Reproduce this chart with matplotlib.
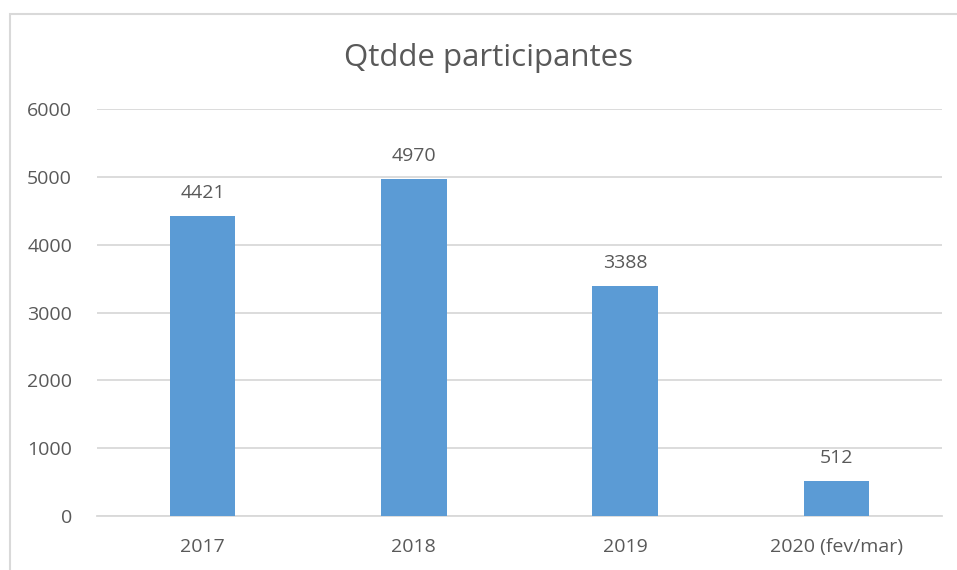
import matplotlib.pyplot as plt
from matplotlib.patches import Rectangle

categories = ["2017", "2018", "2019", "2020 (fev/mar)"]
values = [4421, 4970, 3388, 512]
yticks = [0, 1000, 2000, 3000, 4000, 5000, 6000]
title = "Qtdde participantes"

plt.rcParams['font.family'] = ['Open Sans', 'DejaVu Sans']
text_color = '#595959'
grid_color = '#d9d9d9'
bar_color = '#5b9bd5'

fig = plt.figure(figsize=(9.57, 5.70), dpi=100)
fig.patches.append(Rectangle((10/957, -0.1), 1.2, 1 - 14/570 + 0.1, transform=fig.transFigure,
                             fill=False, edgecolor='#d9d9d9', linewidth=1.5))
ax = fig.add_axes([97/957, 1 - 516/570, 845/957, (516 - 109)/570])

x = range(len(categories))
bars = ax.bar(x, values, width=0.31, color=bar_color, zorder=3)
ax.set_xlim(-0.5, len(categories) - 0.5)
ax.set_ylim(0, 6000)
ax.set_yticks(yticks)
ax.set_yticklabels([str(t) for t in yticks])
ax.set_xticks(list(x))
ax.set_xticklabels(categories)
ax.grid(axis='y', color=grid_color, linewidth=1.3, zorder=0)
for s in ['top', 'right', 'left']:
    ax.spines[s].set_visible(False)
ax.spines['bottom'].set_color(grid_color)
ax.spines['bottom'].set_linewidth(1.3)
ax.tick_params(axis='both', length=0, labelsize=14, colors=text_color)
ax.tick_params(axis='y', pad=18)
ax.tick_params(axis='x', pad=16)

for xi, v in zip(x, values):
    ax.annotate(str(v), (xi, v), xytext=(0, 10), textcoords='offset points',
                ha='center', va='bottom', fontsize=14, color=text_color)

fig.text(488/957, 1 - 58/570, title, ha='center', va='center', fontsize=22.5, color=text_color)

fig.savefig('out.png', dpi=100)
